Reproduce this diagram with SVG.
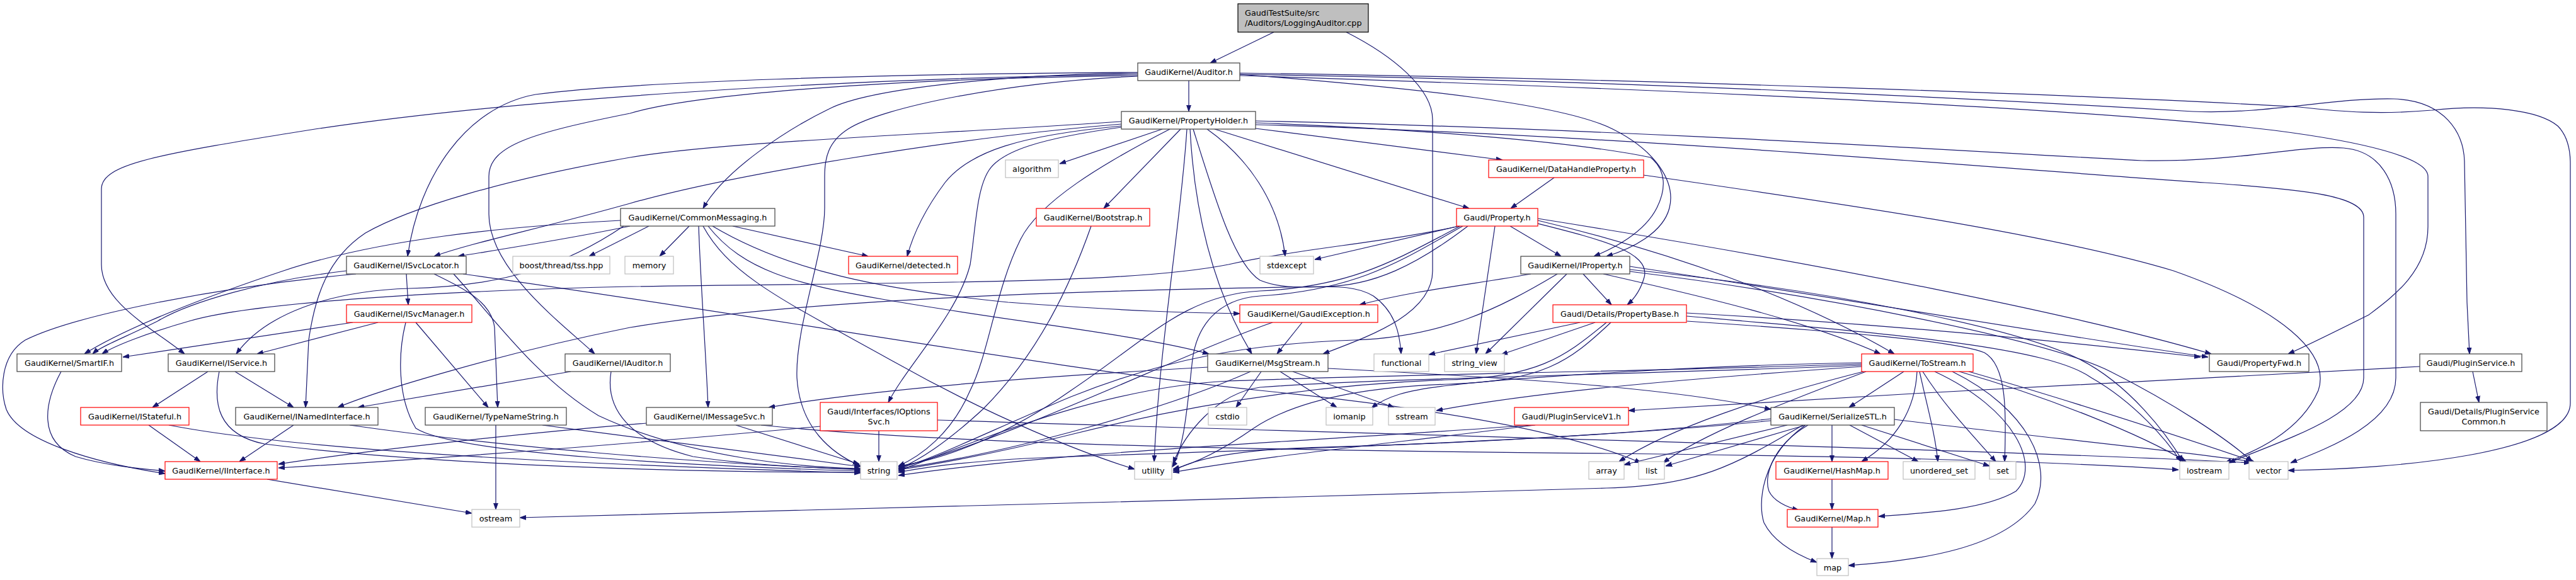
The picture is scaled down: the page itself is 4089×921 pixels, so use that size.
<svg xmlns="http://www.w3.org/2000/svg" width="4089" height="921" viewBox="0 0 4089 921">
<style>
.n rect{fill:#fff;stroke:#404040;stroke-width:1.2}
.n.r rect{stroke:#ff0000}
.n.x rect{stroke:#bfbfbf}
.n.root rect{fill:#bfbfbf;stroke:#000}
text{font-family:"DejaVu Sans","Liberation Sans",sans-serif;font-size:12.8px;text-anchor:middle;fill:#000}
.l{text-anchor:start}
#edges path{fill:none;stroke:#191970;stroke-width:1.2;marker-end:url(#a)}
</style>
<defs>
<marker id="a" markerWidth="10" markerHeight="8" refX="10" refY="4" orient="auto" markerUnits="userSpaceOnUse"><path d="M0,0.6 L10,4 L0,7.4z" fill="#191970" stroke="#191970" stroke-width="1"/></marker>
</defs>
<rect width="4089" height="921" fill="#fff"/>
<g id="edges">
<path d="M2022,51 L1921,100"/>
<path d="M2137,51 C2210,88 2274,140 2274,190 L2274,430 C2274,500 2170,535 2100,562"/>
<path d="M1887,128 L1887,177"/>
<path d="M1806,116 C1600,118 1380,140 1316,173 C1250,205 1150,270 1116,331"/>
<path d="M1806,115 C1400,117 1000,130 850,150 C740,170 665,280 647,407"/>
<path d="M1806,118 C1300,125 800,160 500,205 C250,245 161,260 161,300 L161,420 C161,480 240,520 293,562"/>
<path d="M1806,120 C1400,125 1100,150 1000,180 C850,210 776,230 776,280 L776,340 C776,430 900,520 944,562"/>
<path d="M1806,121 C1600,130 1400,170 1346,205 C1315,225 1309,250 1309,280 L1309,330 C1309,400 1262,520 1265,600 C1270,680 1320,720 1366,740"/>
<path d="M1968,118 C2250,140 2480,165 2560,205 C2630,240 2660,290 2650,330 C2640,370 2590,395 2550,407"/>
<path d="M1968,120 C2600,140 3300,170 3610,207 C3750,225 3854,250 3854,280 L3854,360 C3854,430 3800,470 3760,500 C3700,530 3660,550 3632,562"/>
<path d="M1968,118 C2600,128 3200,160 3480,177 C3600,182 3700,155 3800,157 C3880,160 3912,210 3912,260 L3916,480 L3920,562"/>
<path d="M1968,116 C2600,125 3300,150 3650,170 C3720,178 3780,182 3860,175 C3950,165 4030,175 4060,200 C4075,215 4080,235 4080,260 L4080,640 C4080,720 3800,745 3632,747"/>
<path d="M1845,205 L1682,260"/>
<path d="M1874,205 L1752,331"/>
<path d="M1993,204 L2385,254"/>
<path d="M1928,205 L2332,331"/>
<path d="M1916,205 C1980,250 2030,320 2040,407"/>
<path d="M1780,200 C1620,215 1540,240 1500,290 C1470,330 1450,370 1440,407"/>
<path d="M1780,197 C1500,220 1150,280 1000,323 C850,365 750,385 689,407"/>
<path d="M1780,202 C1650,220 1590,240 1570,270 C1550,300 1549,360 1540,420 C1520,500 1440,580 1410,639"/>
<path d="M1857,205 C1750,260 1650,320 1620,380 C1580,460 1570,560 1540,620 C1510,690 1460,725 1426,740"/>
<path d="M1780,193 C1450,215 1150,225 1000,250 C800,285 650,330 580,370 C520,410 500,470 490,540 L485,647"/>
<path d="M1884,205 C1875,350 1840,550 1832,733"/>
<path d="M1889,205 C1895,320 1920,450 1987,562"/>
<path d="M1894,205 C1930,320 1960,420 2000,445 C2060,470 2130,440 2180,470 C2215,495 2222,530 2224,562"/>
<path d="M1993,195 C2250,205 2500,225 2620,250 C2645,270 2645,300 2630,330 C2610,370 2560,395 2530,407"/>
<path d="M1993,192 C2600,205 3200,245 3400,255 C3550,258 3650,230 3720,235 C3780,240 3803,290 3803,340 L3803,600 C3803,670 3700,710 3636,735"/>
<path d="M1993,198 C2600,215 3200,270 3500,290 C3650,300 3752,310 3752,345 L3752,600 C3752,660 3620,700 3538,735"/>
<path d="M1000,359 C900,380 800,395 727,407"/>
<path d="M1030,359 L935,407"/>
<path d="M1094,359 L1047,407"/>
<path d="M1163,359 L1378,407"/>
<path d="M1109,359 C1112,450 1120,550 1124,647"/>
<path d="M1116,359 C1160,440 1250,480 1420,575 C1580,665 1720,720 1801,745"/>
<path d="M1124,359 C1180,430 1260,450 1400,475 C1600,510 1800,530 1919,562"/>
<path d="M1131,359 C1250,430 1400,460 1600,480 C1800,495 1900,497 1968,498"/>
<path d="M985,350 C800,360 600,380 450,430 C330,470 200,520 134,562"/>
<path d="M990,359 C900,420 800,455 650,458 C520,462 420,500 375,562"/>
<path d="M550,430 C420,445 300,480 250,510 C200,535 160,550 147,562"/>
<path d="M645,435 L648,484"/>
<path d="M689,435 C740,460 780,480 785,520 L790,647"/>
<path d="M565,435 C350,455 120,500 40,540 C0,565 0,620 10,650 C30,700 150,735 262,752"/>
<path d="M720,435 C780,500 850,600 950,660 C1100,730 1280,742 1366,744"/>
<path d="M735,435 C1200,500 1700,590 2000,620 C2300,650 2500,690 2605,735"/>
<path d="M560,512 L195,567"/>
<path d="M600,512 L408,562"/>
<path d="M660,512 L775,647"/>
<path d="M644,512 C632,560 630,630 660,680 C720,720 1100,740 1366,748"/>
<path d="M330,590 L242,647"/>
<path d="M373,590 L466,647"/>
<path d="M348,590 C338,640 345,690 420,705 C700,740 1100,750 1366,750"/>
<path d="M97,590 C70,640 60,700 120,725 C170,740 230,745 262,748"/>
<path d="M236,675 L318,733"/>
<path d="M268,675 C500,720 1000,740 1366,751"/>
<path d="M466,675 L380,733"/>
<path d="M555,675 C800,710 1100,735 1366,746"/>
<path d="M787,675 L787,809"/>
<path d="M861,675 C1050,700 1250,725 1366,741"/>
<path d="M424,761 L749,815"/>
<path d="M906,590 L568,647"/>
<path d="M970,590 C960,650 1000,700 1100,725 C1200,740 1300,743 1366,745"/>
<path d="M1026,672 C800,690 550,720 442,737"/>
<path d="M1302,677 C1000,705 700,728 442,743"/>
<path d="M1168,675 L1364,737"/>
<path d="M1208,675 C1500,705 2000,715 2550,720 C3000,725 3300,735 3458,746"/>
<path d="M1395,684 L1395,733"/>
<path d="M1488,667 C2200,690 3200,715 3572,735"/>
<path d="M1732,359 C1700,450 1650,560 1560,650 C1500,705 1460,730 1426,745"/>
<path d="M2467,282 L2398,331"/>
<path d="M2609,278 C2900,320 3250,370 3450,430 C3620,490 3700,560 3680,620 C3650,690 3570,720 3532,735"/>
<path d="M2397,359 L2478,407"/>
<path d="M2441,355 C2540,380 2620,400 2610,440 C2603,465 2590,478 2583,484"/>
<path d="M2316,359 L2087,412"/>
<path d="M2373,359 L2343,562"/>
<path d="M2318,359 C2220,410 2150,455 2000,462 C1880,468 1820,540 1700,620 C1600,690 1500,730 1426,740"/>
<path d="M2322,359 C2230,410 2160,460 2000,470 C1930,475 1900,520 1893,570 C1885,640 1880,715 1860,742"/>
<path d="M2330,359 C2250,420 2180,455 2100,455 C1800,460 1300,470 1000,520 C800,560 600,620 536,647"/>
<path d="M2316,359 C2200,385 2060,395 1950,420 C1800,450 1500,448 1000,455 C700,462 400,480 300,510 C230,530 180,550 162,562"/>
<path d="M2441,350 C2650,400 2850,470 3007,562"/>
<path d="M2545,435 C2700,470 2870,510 2985,562"/>
<path d="M2441,347 C2900,420 3300,500 3510,562"/>
<path d="M2587,423 C2900,470 3250,530 3505,567"/>
<path d="M2587,428 C2900,460 3200,520 3300,570 C3380,610 3440,690 3465,733"/>
<path d="M2587,431 C2900,470 3250,540 3350,590 C3450,640 3540,700 3575,733"/>
<path d="M2677,497 C3000,515 3300,545 3493,567"/>
<path d="M2677,502 C3000,530 3250,550 3320,600 C3390,640 3440,700 3462,733"/>
<path d="M2678,510 C2900,525 3100,540 3150,560 C3185,580 3185,650 3182,733"/>
<path d="M2508,512 L2268,563"/>
<path d="M2532,512 L2383,563"/>
<path d="M2550,512 C2480,570 2440,598 2300,603 C2100,610 1900,640 1700,690 C1600,715 1500,735 1426,746"/>
<path d="M2557,512 C2490,575 2450,605 2300,610 C2150,615 2050,640 1990,680 C1940,715 1900,735 1862,745"/>
<path d="M2430,435 C2350,450 2250,460 2158,484"/>
<path d="M2513,435 L2558,484"/>
<path d="M2487,435 L2358,562"/>
<path d="M2472,435 C2380,490 2290,535 2150,540 C1980,546 1850,570 1700,630 C1580,680 1480,730 1426,744"/>
<path d="M2067,512 L2027,562"/>
<path d="M2020,512 C1880,560 1600,700 1426,742"/>
<path d="M2002,590 L1962,647"/>
<path d="M2032,590 L2122,647"/>
<path d="M2052,590 L2213,647"/>
<path d="M1918,583 C1700,595 1400,615 1220,647"/>
<path d="M1985,590 C1850,650 1600,720 1426,744"/>
<path d="M2108,585 C2400,600 2650,615 2811,650"/>
<path d="M3022,590 L2935,647"/>
<path d="M3043,590 C3040,650 3010,700 2955,733"/>
<path d="M3047,590 C3060,650 3072,690 3076,733"/>
<path d="M3052,590 C3090,650 3140,700 3168,733"/>
<path d="M3071,590 C3200,650 3240,740 3200,780 C3150,810 3050,815 2982,820"/>
<path d="M3099,590 C3220,650 3260,740 3230,800 C3180,870 3050,890 2934,898"/>
<path d="M3110,590 C3250,630 3400,690 3470,733"/>
<path d="M3125,590 C3300,640 3480,700 3578,733"/>
<path d="M2955,582 C2700,600 2450,620 2280,652"/>
<path d="M2955,576 C2700,580 2400,600 2300,612 C2230,620 2200,630 2177,648"/>
<path d="M2955,578 C2600,590 2200,595 1950,605 C1750,615 1550,700 1426,748"/>
<path d="M2955,580 C2600,595 2200,600 2000,615 C1930,625 1880,690 1862,736"/>
<path d="M2958,590 C2800,630 2650,680 2570,733"/>
<path d="M2962,590 C2830,640 2700,690 2640,735"/>
<path d="M2908,675 L2908,733"/>
<path d="M2870,675 C2810,710 2800,760 2808,780 C2815,795 2835,805 2855,810"/>
<path d="M2866,675 C2795,725 2790,800 2800,830 C2815,860 2850,880 2884,893"/>
<path d="M2936,675 L3045,733"/>
<path d="M2955,675 L3158,740"/>
<path d="M2837,675 L2578,738"/>
<path d="M2866,675 L2644,740"/>
<path d="M2862,675 C2750,740 2700,770 2550,775 C2000,790 1200,815 825,822"/>
<path d="M2811,665 C2600,690 2300,705 2100,710 C1980,713 1900,725 1862,748"/>
<path d="M2811,668 C2500,700 2000,715 1700,725 C1550,730 1480,740 1426,750"/>
<path d="M3007,666 C3200,690 3450,715 3575,733"/>
<path d="M2908,761 L2908,809"/>
<path d="M2908,837 L2908,887"/>
<path d="M2437,675 C2200,705 2000,725 1862,750"/>
<path d="M2430,675 C2100,700 1700,715 1426,755"/>
<path d="M3841,582 C3600,595 3000,625 2585,652"/>
<path d="M3925,590 L3935,639"/>
</g>
<g id="n_cpp" class="n root"><rect x="1965" y="6" width="207" height="45"/><text class="l" x="1976" y="25">GaudiTestSuite/src</text><text class="l" x="1976" y="40.5">/Auditors/LoggingAuditor.cpp</text></g>
<g id="n_auditor" class="n"><rect x="1806" y="100" width="162" height="28"/><text x="1887" y="119">GaudiKernel/Auditor.h</text></g>
<g id="n_propertyholder" class="n"><rect x="1780" y="177" width="213" height="28"/><text x="1886.5" y="196">GaudiKernel/PropertyHolder.h</text></g>
<g id="n_commonmessaging" class="n"><rect x="985" y="331" width="245" height="28"/><text x="1107.5" y="350">GaudiKernel/CommonMessaging.h</text></g>
<g id="n_algorithm" class="n x"><rect x="1596" y="254" width="84" height="28"/><text x="1638" y="273">algorithm</text></g>
<g id="n_bootstrap" class="n r"><rect x="1645" y="331" width="180" height="28"/><text x="1735" y="350">GaudiKernel/Bootstrap.h</text></g>
<g id="n_datahandleproperty" class="n r"><rect x="2363" y="254" width="246" height="28"/><text x="2486" y="273">GaudiKernel/DataHandleProperty.h</text></g>
<g id="n_property" class="n r"><rect x="2312" y="331" width="129" height="28"/><text x="2376.5" y="350">Gaudi/Property.h</text></g>
<g id="n_isvclocator" class="n"><rect x="550" y="407" width="190" height="28"/><text x="645" y="426">GaudiKernel/ISvcLocator.h</text></g>
<g id="n_boost" class="n x"><rect x="814" y="407" width="154" height="28"/><text x="891" y="426">boost/thread/tss.hpp</text></g>
<g id="n_memory" class="n x"><rect x="992" y="407" width="77" height="28"/><text x="1030.5" y="426">memory</text></g>
<g id="n_detected" class="n r"><rect x="1347" y="407" width="173" height="28"/><text x="1433.5" y="426">GaudiKernel/detected.h</text></g>
<g id="n_stdexcept" class="n x"><rect x="2000" y="407" width="85" height="28"/><text x="2042.5" y="426">stdexcept</text></g>
<g id="n_iproperty" class="n"><rect x="2414" y="407" width="173" height="28"/><text x="2500.5" y="426">GaudiKernel/IProperty.h</text></g>
<g id="n_isvcmanager" class="n r"><rect x="550" y="484" width="199" height="28"/><text x="649.5" y="503">GaudiKernel/ISvcManager.h</text></g>
<g id="n_gaudiexception" class="n r"><rect x="1968" y="484" width="219" height="28"/><text x="2077.5" y="503">GaudiKernel/GaudiException.h</text></g>
<g id="n_propertybase" class="n r"><rect x="2465" y="484" width="212" height="28"/><text x="2571" y="503">Gaudi/Details/PropertyBase.h</text></g>
<g id="n_smartif" class="n"><rect x="27" y="562" width="166" height="28"/><text x="110" y="581">GaudiKernel/SmartIF.h</text></g>
<g id="n_iservice" class="n"><rect x="267" y="562" width="169" height="28"/><text x="351.5" y="581">GaudiKernel/IService.h</text></g>
<g id="n_iauditor" class="n"><rect x="897" y="562" width="167" height="28"/><text x="980.5" y="581">GaudiKernel/IAuditor.h</text></g>
<g id="n_msgstream" class="n"><rect x="1917" y="562" width="191" height="28"/><text x="2012.5" y="581">GaudiKernel/MsgStream.h</text></g>
<g id="n_functional" class="n x"><rect x="2181" y="562" width="87" height="28"/><text x="2224.5" y="581">functional</text></g>
<g id="n_string_view" class="n x"><rect x="2293" y="562" width="95" height="28"/><text x="2340.5" y="581">string_view</text></g>
<g id="n_tostream" class="n r"><rect x="2955" y="562" width="177" height="28"/><text x="3043.5" y="581">GaudiKernel/ToStream.h</text></g>
<g id="n_propertyfwd" class="n"><rect x="3507" y="562" width="158" height="28"/><text x="3586" y="581">Gaudi/PropertyFwd.h</text></g>
<g id="n_pluginservice" class="n"><rect x="3841" y="562" width="162" height="28"/><text x="3922" y="581">Gaudi/PluginService.h</text></g>
<g id="n_istateful" class="n r"><rect x="128" y="647" width="172" height="28"/><text x="214" y="666">GaudiKernel/IStateful.h</text></g>
<g id="n_inamedinterface" class="n"><rect x="374" y="647" width="226" height="28"/><text x="487" y="666">GaudiKernel/INamedInterface.h</text></g>
<g id="n_typenamestring" class="n"><rect x="675" y="647" width="224" height="28"/><text x="787" y="666">GaudiKernel/TypeNameString.h</text></g>
<g id="n_imessagesvc" class="n"><rect x="1026" y="647" width="200" height="28"/><text x="1126" y="666">GaudiKernel/IMessageSvc.h</text></g>
<g id="n_ioptionssvc" class="n r"><rect x="1302" y="639" width="186" height="45"/><text x="1395" y="658">Gaudi/Interfaces/IOptions</text><text x="1395" y="673.5">Svc.h</text></g>
<g id="n_cstdio" class="n x"><rect x="1918" y="647" width="61" height="28"/><text x="1948.5" y="666">cstdio</text></g>
<g id="n_iomanip" class="n x"><rect x="2105" y="647" width="74" height="28"/><text x="2142" y="666">iomanip</text></g>
<g id="n_sstream" class="n x"><rect x="2204" y="647" width="74" height="28"/><text x="2241" y="666">sstream</text></g>
<g id="n_pluginservicev1" class="n r"><rect x="2404" y="647" width="181" height="28"/><text x="2494.5" y="666">Gaudi/PluginServiceV1.h</text></g>
<g id="n_serializestl" class="n"><rect x="2811" y="647" width="196" height="28"/><text x="2909" y="666">GaudiKernel/SerializeSTL.h</text></g>
<g id="n_pluginservicecommon" class="n"><rect x="3842" y="639" width="201" height="45"/><text x="3942.5" y="658">Gaudi/Details/PluginService</text><text x="3942.5" y="673.5">Common.h</text></g>
<g id="n_iinterface" class="n r"><rect x="262" y="733" width="178" height="28"/><text x="351" y="752">GaudiKernel/IInterface.h</text></g>
<g id="n_string" class="n x"><rect x="1366" y="733" width="58" height="28"/><text x="1395" y="752">string</text></g>
<g id="n_utility" class="n x"><rect x="1801" y="733" width="59" height="28"/><text x="1830.5" y="752">utility</text></g>
<g id="n_array" class="n x"><rect x="2522" y="733" width="56" height="28"/><text x="2550" y="752">array</text></g>
<g id="n_list" class="n x"><rect x="2601" y="733" width="41" height="28"/><text x="2621.5" y="752">list</text></g>
<g id="n_hashmap" class="n r"><rect x="2819" y="733" width="178" height="28"/><text x="2908" y="752">GaudiKernel/HashMap.h</text></g>
<g id="n_unordered_set" class="n x"><rect x="3021" y="733" width="114" height="28"/><text x="3078" y="752">unordered_set</text></g>
<g id="n_set" class="n x"><rect x="3158" y="733" width="42" height="28"/><text x="3179" y="752">set</text></g>
<g id="n_iostream" class="n x"><rect x="3460" y="733" width="78" height="28"/><text x="3499" y="752">iostream</text></g>
<g id="n_vector" class="n x"><rect x="3570" y="733" width="62" height="28"/><text x="3601" y="752">vector</text></g>
<g id="n_ostream" class="n x"><rect x="749" y="809" width="76" height="28"/><text x="787" y="828">ostream</text></g>
<g id="n_maph" class="n r"><rect x="2837" y="809" width="144" height="28"/><text x="2909" y="828">GaudiKernel/Map.h</text></g>
<g id="n_map" class="n x"><rect x="2884" y="887" width="50" height="27"/><text x="2909" y="905.5">map</text></g>
</svg>
